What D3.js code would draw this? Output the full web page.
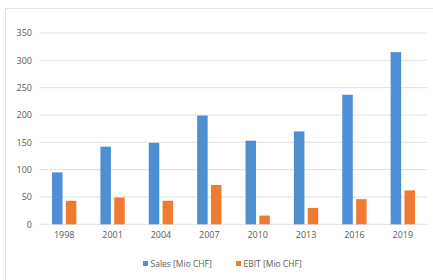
<!DOCTYPE html>
<html>
    <head>
        <script src="https://cdn.jsdelivr.net/npm/d3@7/dist/d3.min.js"></script>
    </head>
    <style>
        body { margin: 0; background: #fff; }
        text { font-family: "Open Sans", "Noto Sans", sans-serif; fill: #595959; }
    </style>
    <body>
        <div id="canvas"></div>
        <script>
            var years = ['1998', '2001', '2004', '2007', '2010', '2013', '2016', '2019'];
            var sales = [95, 142, 149, 199, 153, 170, 237, 315];
            var ebit = [43, 49, 43, 72, 16, 30, 46, 62];
            var seriesNames = ['Sales [Mio CHF]', 'EBIT [Mio CHF]'];
            var yTicks = [0, 50, 100, 150, 200, 250, 300, 350];

            const w = 433;
            const h = 280;
            const colors = ['#4e8fd4', '#ef7a31'];

            const svg = d3.select('#canvas')
                .append('svg')
                .attr('width', w)
                .attr('height', h);

            // chart frame
            svg.append('rect')
                .attr('x', 5.5).attr('y', 8.5)
                .attr('width', 440).attr('height', 280)
                .attr('fill', 'none')
                .attr('stroke', '#e3e3e3');

            const x = d3.scaleBand().domain(years).range([40, 427]);
            const y = d3.scaleLinear().domain([0, 350]).range([224.3, 33]);

            // gridlines
            svg.selectAll('line.grid')
                .data(yTicks)
                .enter()
                .append('line')
                .attr('x1', 40).attr('x2', 427)
                .attr('y1', d => y(d)).attr('y2', d => y(d))
                .attr('stroke', '#e2dede')
                .attr('stroke-width', 1);

            // y labels
            const yAxis = svg.append('g')
                .attr('transform', 'translate(32,0)')
                .call(d3.axisLeft(y).tickValues(yTicks).tickSize(0).tickPadding(0));
            yAxis.select('.domain').remove();
            yAxis.selectAll('text').attr('font-size', '9px').attr('fill', '#595959')
                .style('font-family', '"Open Sans", sans-serif');

            // x labels
            const xAxis = svg.append('g')
                .attr('transform', 'translate(0,232)')
                .call(d3.axisBottom(x).tickSize(0).tickPadding(0));
            xAxis.select('.domain').remove();
            xAxis.selectAll('text').attr('font-size', '9px').attr('fill', '#595959')
                .style('font-family', '"Open Sans", sans-serif');

            const inner = d3.scaleBand().domain([0, 1]).range([0, x.bandwidth()]).paddingInner(0.24).paddingOuter(0.87);

            [sales, ebit].forEach((series, s) => {
                svg.selectAll('rect.s' + s)
                    .data(series)
                    .enter()
                    .append('rect')
                    .attr('x', (d, i) => x(years[i]) + inner(s))
                    .attr('y', d => y(d))
                    .attr('width', inner.bandwidth())
                    .attr('height', d => y(0) - y(d))
                    .attr('fill', colors[s]);
            });

            // legend
            const legendX = [143, 236];
            seriesNames.forEach((name, s) => {
                svg.append('rect')
                    .attr('x', legendX[s]).attr('y', 261)
                    .attr('width', 5).attr('height', 5)
                    .attr('fill', colors[s]);
                svg.append('text')
                    .attr('x', legendX[s] + 7.5).attr('y', 266.5)
                    .attr('font-size', '8.5px')
                    .text(name);
            });
        </script>
    </body>
</html>
